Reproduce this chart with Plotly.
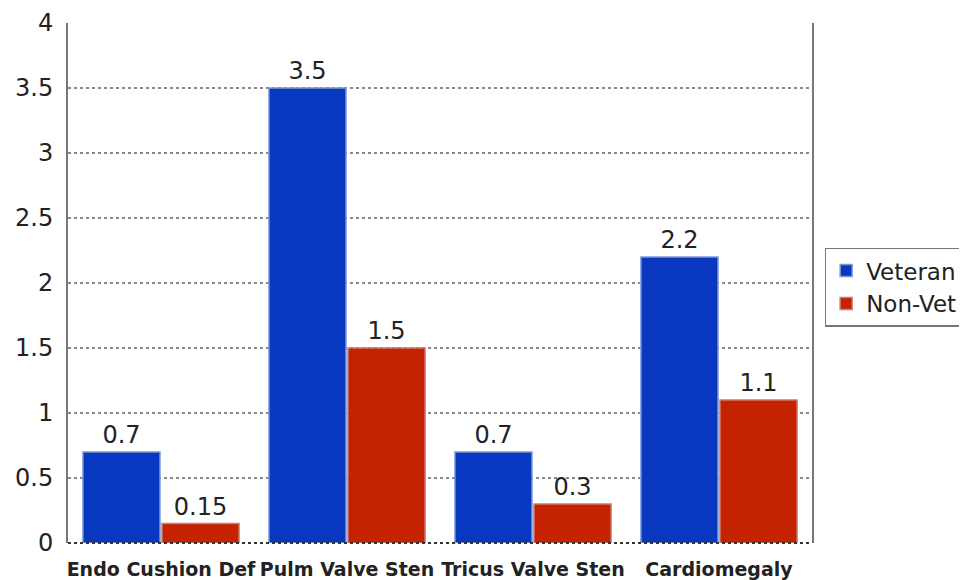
import plotly.graph_objects as go

categories = ["Endo Cushion Def", "Pulm Valve Sten", "Tricus Valve Sten", "Cardiomegaly"]
veteran = [0.7, 3.5, 0.7, 2.2]
non_vet = [0.15, 1.5, 0.3, 1.1]
veteran_labels = ["0.7", "3.5", "0.7", "2.2"]
non_vet_labels = ["0.15", "1.5", "0.3", "1.1"]
y_ticks = [0, 0.5, 1, 1.5, 2, 2.5, 3, 3.5, 4]
y_tick_text = ["0", "0.5", "1", "1.5", "2", "2.5", "3", "3.5", "4"]

FONT = "DejaVu Sans, Verdana, sans-serif"

fig = go.Figure()
fig.add_trace(go.Bar(
    x=categories, y=veteran, name="Veteran", text=veteran_labels,
    textposition="outside", cliponaxis=False,
    textfont=dict(size=24, color="#222", family=FONT),
    marker=dict(color="#0838c0", line=dict(color="#7f98d4", width=1.5)),
))
fig.add_trace(go.Bar(
    x=categories, y=non_vet, name="Non-Vet", text=non_vet_labels,
    textposition="outside", cliponaxis=False,
    textfont=dict(size=24, color="#222", family=FONT),
    marker=dict(color="#c42200", line=dict(color="#cf7a68", width=1.5)),
))

# the page body adds an 8px offset, so the margins are reduced by 8px on left/top
fig.update_layout(
    width=967, height=580,
    margin=dict(l=60, r=163, t=15, b=45, autoexpand=False),
    paper_bgcolor="white", plot_bgcolor="white",
    barmode="group", bargap=0.15, bargroupgap=0.025,
    font=dict(family=FONT, color="#222"),
    showlegend=True,
    legend=dict(x=1.017, y=0.568, xanchor="left", yanchor="top",
                bordercolor="#777", borderwidth=1.5,
                font=dict(size=23, color="#222", family=FONT),
                itemwidth=30, tracegroupgap=0),
)
fig.update_xaxes(
    automargin=False, tickangle=0,
    showline=False,
    tickfont=dict(size=19, family=FONT, color="#222", weight="bold"),
    ticks="", ticklabelstandoff=13,
)
fig.update_yaxes(
    automargin=False,
    range=[0, 4], tickvals=y_ticks, ticktext=y_tick_text,
    showgrid=True, gridcolor="#888", griddash="dot", gridwidth=1.5,
    showline=True, linecolor="#777", linewidth=2, mirror=True,
    tickfont=dict(size=24, color="#222", family=FONT), ticks="",
    ticklabelstandoff=8,
    zeroline=False,
)
fig.add_shape(type="line", xref="paper", yref="paper", x0=0, x1=1, y0=0, y1=0,
              line=dict(color="#333", width=2, dash="dot"))
fig.write_html("out.html")
